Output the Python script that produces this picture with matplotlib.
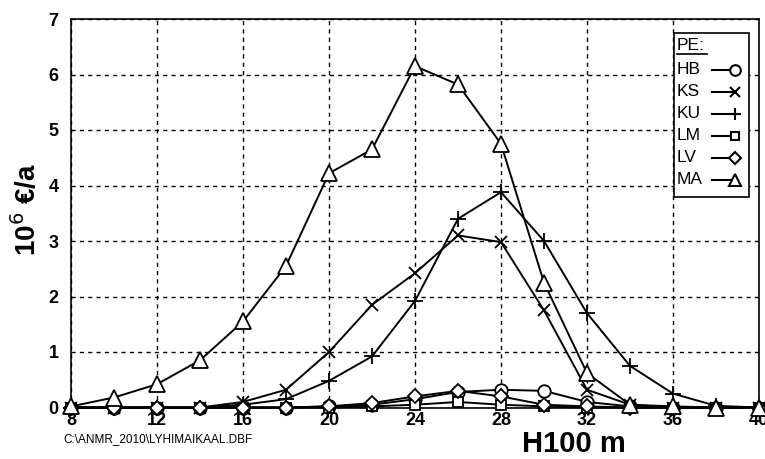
import numpy as np
import matplotlib.pyplot as plt
from matplotlib.lines import Line2D
from matplotlib.patches import Rectangle

plt.rcParams['font.family'] = ['Liberation Sans', 'DejaVu Sans']

h100 = [8, 10, 12, 14, 16, 18, 20, 22, 24, 26, 28, 30, 32, 34, 36, 38, 40]
series_names = ["HB", "KS", "KU", "LM", "LV", "MA"]
hb = [0, 0, 0, 0, 0, 0, 0.02, 0.05, 0.15, 0.28, 0.32, 0.3, 0.1, 0.02, 0, 0, 0]
ks = [0, 0, 0, 0, 0.1, 0.32, 1.0, 1.85, 2.42, 3.1, 2.98, 1.75, 0.32, 0.05, 0, 0, 0]
ku = [0, 0, 0, 0, 0.05, 0.15, 0.48, 0.92, 1.92, 3.4, 3.88, 3.0, 1.7, 0.75, 0.25, 0.03, 0]
lm = [0, 0, 0, 0, 0, 0, 0, 0.02, 0.05, 0.1, 0.05, 0.02, 0, 0, 0, 0, 0]
lv = [0, 0, 0, 0, 0, 0, 0.02, 0.08, 0.2, 0.3, 0.2, 0.05, 0.02, 0, 0, 0, 0]
ma = [0.02, 0.18, 0.42, 0.85, 1.55, 2.55, 4.22, 4.65, 6.15, 5.82, 4.75, 2.25, 0.62, 0.05, 0.02, 0, 0]

W, H = 765, 459
fig = plt.figure(figsize=(W / 100, H / 100), dpi=100)
ax = fig.add_axes([71 / W, 1 - 407.5 / H, (759 - 71) / W, (407.5 - 19) / H])

styles = {"HB": "o", "KS": "x", "KU": "+", "LM": "s", "LV": "D", "MA": "^"}
sizes = {"HB": 9, "KS": 9, "KU": 11, "LM": 6.5, "LV": 7.5, "MA": 11}
data = dict(zip(series_names, [hb, ks, ku, lm, lv, ma]))

for name in series_names:
    ax.plot(h100, data[name], color="black", lw=1.4, marker=styles[name],
            ms=sizes[name], mfc="white", mec="black", mew=1.3, clip_on=False, zorder=3)

ax.set_xlim(8, 40)
ax.set_ylim(0, 7)
ax.set_xticks(range(8, 41, 4))
ax.set_yticks(range(0, 8))
ax.grid(True, color="black", ls=(0, (3, 3)), lw=1)
ax.tick_params(direction="in", length=0, labelsize=13)
ax.tick_params(axis="x", pad=3)
ax.tick_params(axis="y", pad=9)
for lab in ax.get_xticklabels() + ax.get_yticklabels():
    lab.set_fontweight("bold")
for sp in ax.spines.values():
    sp.set_linewidth(1.2)

fig.text(27 / W, 1 - 210 / H, "10$^{6}$ €/a", rotation=90, fontsize=20, fontweight="bold",
         ha="center", va="center")
fig.text(574 / W, 1 - 444 / H, "H100 m", fontsize=21, fontweight="bold", ha="center", va="center")
fig.text(63 / W, 1 - 439 / H, r"C:\ANMR_2010\LYHIMAIKAAL.DBF", fontsize=8.5, ha="left", va="center")

# legend box drawn by hand
def fx(px):
    return px / W

def fy(py):
    return 1 - py / H

fig.patches.append(Rectangle((fx(674), fy(197)), fx(749) - fx(674), fy(33) - fy(197),
                             transform=fig.transFigure, facecolor="white", edgecolor="black", lw=1.2, zorder=5))
fig.text(fx(677), fy(45), "PE:", fontsize=12.5, ha="left", va="center", zorder=6)
fig.lines.append(Line2D([fx(677), fx(707)], [fy(54), fy(54)], transform=fig.transFigure, color="black", lw=1.2, zorder=6))
rows = [70, 92, 114, 136, 158, 180]
for name, py in zip(series_names, rows):
    fig.text(fx(677), fy(py), name, fontsize=12.5, ha="left", va="center", zorder=6)
    fig.lines.append(Line2D([fx(712), fx(735)], [fy(py), fy(py)], transform=fig.transFigure,
                            color="black", lw=1.5, marker=styles[name], markevery=[1],
                            ms=sizes[name] * 0.85, mfc="white", mec="black", mew=1.5, zorder=6))

fig.savefig("out.png", dpi=100)
